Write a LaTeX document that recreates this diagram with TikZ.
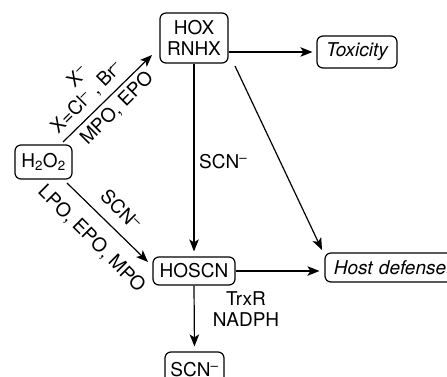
\documentclass[tikz,border=0pt]{standalone}
\usepackage{fontspec}
\setmainfont{TeX Gyre Heros}
\usetikzlibrary{arrows.meta,calc}
\begin{document}
\begin{tikzpicture}[x=1pt,y=-1pt,
  every node/.style={font=\fontsize{19}{21}\selectfont},
  box/.style={draw,line width=1.2pt,rounded corners=6pt,inner sep=0pt,align=center},
  lab/.style={inner sep=0pt,align=center},
  arr/.style={line width=1.2pt,-{Stealth[length=12pt,width=9.5pt,inset=3pt]}}]
\useasboundingbox (0,0) rectangle (447,377);
% nodes
\node[box,minimum width=57pt,minimum height=34pt] (h2o2) at (43.5,162) {H\textsubscript{2}O\textsubscript{2}};
\node[box,minimum width=68pt,minimum height=50pt] (hox) at (194,38) {HOX\\RNHX};
\node[box,minimum width=80pt,minimum height=32pt] (tox) at (357,52) {\itshape Toxicity};
\node[box,minimum width=82pt,minimum height=28pt] (hoscn) at (194,271) {HOSCN};
\node[box,minimum width=130pt,minimum height=29pt,text width=130pt] (host) at (390,267.5) {\itshape Host defense};
\node[box,minimum width=59pt,minimum height=36pt] (scn) at (194.5,370) {SCN\textsuperscript{–}};
% labels
\node[lab,rotate=45] (lx1) at (77,76) {X\textsuperscript{–}};
\node[lab,rotate=45] (lx2) at (87,97.5) {X=Cl\textsuperscript{–} , Br\textsuperscript{–}};
\node[lab,rotate=45] (lmpo) at (117,108.5) {MPO, EPO};
\node[lab,rotate=-45] (lscn2) at (121,210) {SCN\textsuperscript{–}};
\node[lab,rotate=-45] (llpo) at (91.5,239) {LPO, EPO, MPO};
\node[lab,anchor=west] (lscn1) at (199,161.5) {SCN\textsuperscript{–}};
\node[lab] (ltrx) at (246,309.5) {TrxR\\NADPH};
% connector ends
\coordinate (a1s) at (63,142);
\coordinate (a1e) at (152,55);
\coordinate (a2s) at (67,183);
\coordinate (a2e) at (148,262);
\coordinate (a5s) at (235,66);
\coordinate (a5e) at (322,250);
% connectors
\draw[arr] (a1s) -- (a1e);
\draw[arr] (a2s) -- (a2e);
\draw[arr,shorten >=5pt] (hox.south) -- (hoscn.north);
\draw[arr,shorten >=4pt] (hox.east |- tox.west) -- (tox.west);
\draw[arr] (a5s) -- (a5e);
\draw[arr,shorten >=5pt] (hoscn.east) -- (hoscn.east -| host.west);
\draw[arr,shorten >=5pt] (hoscn.south) -- (scn.north);
\end{tikzpicture}
\end{document}
